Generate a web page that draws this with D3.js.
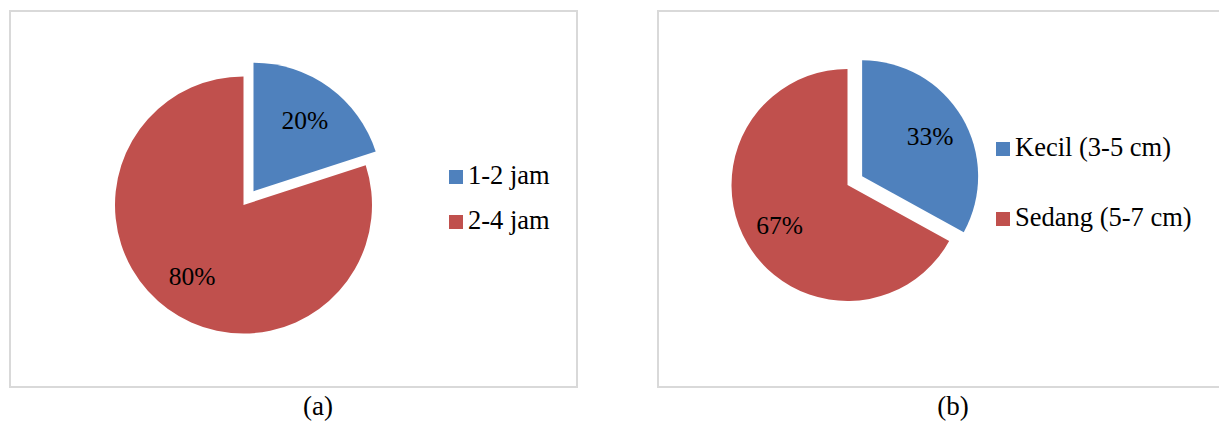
<!DOCTYPE html>
<html>
<head>
<meta charset="utf-8">
<script src="https://cdn.jsdelivr.net/npm/d3@7"></script>
<style>
  html, body { margin: 0; padding: 0; background: #ffffff; }
  svg { display: block; }
</style>
</head>
<body>
<svg id="fig" width="1219" height="423"></svg>
<script>
// Chart (a): duration
const categoriesA = ["1-2 jam", "2-4 jam"];
const valuesA = [20, 80];
// Chart (b): size
const categoriesB = ["Kecil (3-5 cm)", "Sedang (5-7 cm)"];
const valuesB = [33, 67];
const captions = ["(a)", "(b)"];
const seriesColors = ["#4F81BD", "#C0504D"];

const FONT = "'Liberation Serif', 'Times New Roman', Times, 'DejaVu Serif', serif";

const svg = d3.select("#fig");

const panels = [
  {
    categories: categoriesA, values: valuesA, caption: captions[0],
    frame: { x: 10, y: 11, w: 567, h: 376 },
    cx: 243.5, cy: 205, r: 128.5, explode: 17,
    legend: { x: 449, y0: 184, step: 45 },
    captionX: 318
  },
  {
    categories: categoriesB, values: valuesB, caption: captions[1],
    frame: { x: 658, y: 11, w: 600, h: 376 },
    cx: 847.5, cy: 185, r: 116, explode: 17,
    legend: { x: 996, y0: 156, step: 70 },
    captionX: 953
  }
];

const color = d3.scaleOrdinal().range(seriesColors);

panels.forEach(p => {
  const g = svg.append("g");

  // chart area frame
  g.append("rect")
    .attr("x", p.frame.x).attr("y", p.frame.y)
    .attr("width", p.frame.w).attr("height", p.frame.h)
    .attr("fill", "#fff")
    .attr("stroke", "#d9d9d9")
    .attr("stroke-width", 2);

  const total = d3.sum(p.values);
  const pie = d3.pie().sort(null).value(d => d)
    .startAngle(0).endAngle(2 * Math.PI);
  const arcs = pie(p.values);

  const arc = d3.arc().innerRadius(0).outerRadius(p.r);
  const labelArc = d3.arc().innerRadius(p.r * 0.68).outerRadius(p.r * 0.68);

  const pieG = g.append("g").attr("transform", `translate(${p.cx},${p.cy})`);

  // the first slice is pulled out from the centre
  const offset = (d, i) => {
    if (i !== 0) return [0, 0];
    const mid = (d.startAngle + d.endAngle) / 2;
    return [Math.sin(mid) * p.explode, -Math.cos(mid) * p.explode];
  };

  const slice = pieG.selectAll("g.slice")
    .data(arcs)
    .join("g")
    .attr("class", "slice")
    .attr("transform", (d, i) => {
      const [dx, dy] = offset(d, i);
      return `translate(${dx},${dy})`;
    });

  slice.append("path")
    .attr("d", arc)
    .attr("fill", (d, i) => color(i));

  slice.append("text")
    .attr("transform", d => `translate(${labelArc.centroid(d)})`)
    .attr("text-anchor", "middle")
    .attr("dy", "0.35em")
    .attr("font-family", FONT)
    .attr("font-size", 25.5)
    .attr("fill", "#000")
    .text(d => Math.round(d.data / total * 100) + "%");

  // legend
  const lg = g.append("g");
  const item = lg.selectAll("g.item")
    .data(p.categories)
    .join("g")
    .attr("class", "item")
    .attr("transform", (d, i) => `translate(${p.legend.x},${p.legend.y0 + i * p.legend.step})`);
  item.append("rect")
    .attr("x", 0).attr("y", -14)
    .attr("width", 14).attr("height", 14)
    .attr("fill", (d, i) => color(i));
  item.append("text")
    .attr("x", 19).attr("y", 0)
    .attr("font-family", FONT)
    .attr("font-size", 26.5)
    .attr("fill", "#000")
    .text(d => d);

  // caption
  g.append("text")
    .attr("x", p.captionX).attr("y", 415)
    .attr("text-anchor", "middle")
    .attr("font-family", FONT)
    .attr("font-size", 27)
    .attr("fill", "#000")
    .text(p.caption);
});
</script>
</body>
</html>
